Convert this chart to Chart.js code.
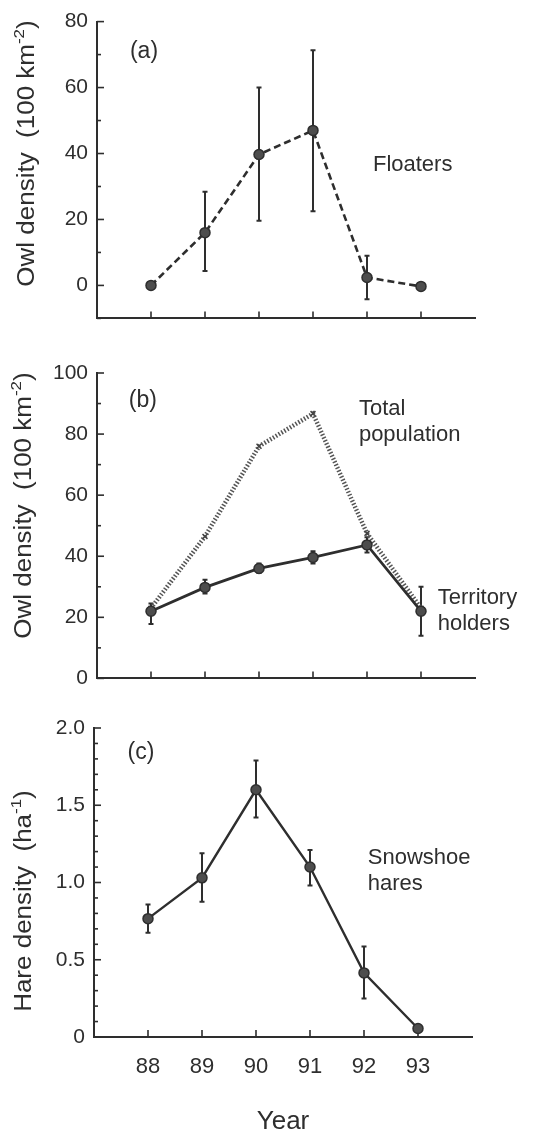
<!DOCTYPE html>
<html>
<head>
<meta charset="utf-8">
<script src="https://cdn.jsdelivr.net/npm/chart.js@4.4.1/dist/chart.umd.min.js"></script>
<style>
  html, body { margin: 0; padding: 0; background: #fff; }
  #wrap { position: relative; width: 559px; height: 1135px; }
  canvas { position: absolute; left: 0; }
</style>
</head>
<body>
<div id="wrap">
  <canvas id="panel-a" width="559" height="340" style="top:0px"></canvas>
  <canvas id="panel-b" width="559" height="360" style="top:340px"></canvas>
  <canvas id="panel-c" width="559" height="435" style="top:700px"></canvas>
</div>
<script>
// años (eje x)
const years = [88, 89, 90, 91, 92, 93];

// (a) floaters
const floaters     = [0, 16, 39.7, 47, 2.4, -0.3];
const floatersLow  = [null, 4.4, 19.6, 22.5, -4.2, null];
const floatersHigh = [null, 28.4, 60, 71.3, 9, null];

// (b) total population / territory holders
const totalPop      = [23, 46.5, 76, 86.7, 47.5, 23];
const territory     = [22, 29.8, 36, 39.6, 43.7, 22];
const territoryLow  = [17.8, 27.8, 34.5, 37.6, 41.2, 14];
const territoryHigh = [24.5, 32.3, 37.6, 41.6, 46.2, 30];

// (c) snowshoe hares
const hares     = [0.766, 1.03, 1.60, 1.10, 0.415, 0.055];
const haresLow  = [0.675, 0.876, 1.42, 0.98, 0.25, null];
const haresHigh = [0.857, 1.19, 1.79, 1.21, 0.585, null];

// etiquetas de ticks
const yLabelsA = [0, 20, 40, 60, 80];
const yLabelsB = [0, 20, 40, 60, 80, 100];
const yLabelsC = [0, 0.5, 1.0, 1.5, 2.0];

const INK = '#2e2e2e';
const FAMILY = '"Liberation Sans", Arial, Helvetica, sans-serif';
Chart.defaults.font.family = FAMILY;
Chart.defaults.color = INK;

function pts(ys) {
  return years.map((x, i) => ({ x: x, y: ys[i] }));
}

function hasValue(list, v) {
  return list.some(t => Math.abs(t - v) < 1e-6);
}

// plugin: ticks hacia adentro, barras de error y textos
function panelPlugin(cfg) {
  return {
    id: 'panel',
    beforeDatasetsDraw(chart) {
      const { ctx, chartArea, scales: { x, y } } = chart;
      ctx.save();
      ctx.strokeStyle = INK;
      ctx.lineWidth = 1.6;
      y.ticks.forEach(t => {
        const py = y.getPixelForValue(t.value);
        const len = hasValue(cfg.yLabels, t.value) ? 7 : 4;
        ctx.beginPath();
        ctx.moveTo(chartArea.left, py);
        ctx.lineTo(chartArea.left + len, py);
        ctx.stroke();
      });
      years.forEach(v => {
        const px = x.getPixelForValue(v);
        ctx.beginPath();
        ctx.moveTo(px, chartArea.bottom);
        ctx.lineTo(px, chartArea.bottom - 7);
        ctx.stroke();
      });
      // barras de error
      ctx.lineWidth = 2;
      chart.data.datasets.forEach(ds => {
        if (!ds.errLow) return;
        ds.data.forEach((p, i) => {
          const lo = ds.errLow[i], hi = ds.errHigh[i];
          if (lo == null || hi == null) return;
          const px = x.getPixelForValue(p.x);
          const y1 = y.getPixelForValue(lo);
          const y2 = y.getPixelForValue(hi);
          ctx.beginPath();
          ctx.moveTo(px, y1); ctx.lineTo(px, y2);
          ctx.moveTo(px - 2.5, y1); ctx.lineTo(px + 2.5, y1);
          ctx.moveTo(px - 2.5, y2); ctx.lineTo(px + 2.5, y2);
          ctx.stroke();
        });
      });
      ctx.restore();
    },
    afterDraw(chart) {
      const { ctx, scales: { x, y } } = chart;
      ctx.save();
      ctx.fillStyle = INK;
      ctx.font = '23px ' + FAMILY;
      ctx.textBaseline = 'middle';
      ctx.textAlign = 'center';
      ctx.fillText(cfg.tag.text, x.getPixelForValue(cfg.tag.x), y.getPixelForValue(cfg.tag.y));

      ctx.font = '22px ' + FAMILY;
      ctx.textAlign = 'left';
      cfg.notes.forEach(n => {
        const px = x.getPixelForValue(n.x);
        const py = y.getPixelForValue(n.y);
        n.lines.forEach((line, k) => ctx.fillText(line, px, py + k * 26));
      });

      // título del eje y, con superíndice (la fuente original es más ancha)
      const t = cfg.yTitle;
      ctx.translate(t.left, y.getPixelForValue(t.y));
      ctx.rotate(-Math.PI / 2);
      ctx.scale(1.13, 1);
      const big = '23px ' + FAMILY, small = '15px ' + FAMILY;
      ctx.font = big;
      const wMain = ctx.measureText(t.text).width;
      const wTail = ctx.measureText(')').width;
      ctx.font = small;
      const wSup = ctx.measureText(t.sup).width;
      let sx = -(wMain + wSup + wTail) / 2;
      ctx.font = big;
      ctx.fillText(t.text, sx, 0);
      sx += wMain;
      ctx.font = small;
      ctx.fillText(t.sup, sx, -8);
      sx += wSup;
      ctx.font = big;
      ctx.fillText(')', sx, 0);
      ctx.restore();
    }
  };
}

function makeChart(id, cfg) {
  return new Chart(document.getElementById(id), {
    type: 'line',
    data: { datasets: cfg.datasets },
    options: {
      responsive: false,
      animation: false,
      events: [],
      layout: { padding: { top: cfg.padTop, right: cfg.padRight, left: 0, bottom: 0 } },
      plugins: { legend: { display: false }, tooltip: { enabled: false } },
      scales: {
        x: {
          type: 'linear',
          min: 87,
          max: 94,
          grid: { display: false, drawTicks: false },
          border: { color: INK, width: 2 },
          ticks: {
            display: cfg.xLabels,
            stepSize: 1,
            autoSkip: false,
            maxRotation: 0,
            padding: 17,
            color: INK,
            font: { size: 22 },
            callback: v => years.includes(v) ? String(v) : ''
          },
          title: {
            display: cfg.xLabels,
            text: 'Year',
            color: INK,
            font: { size: 26, lineHeight: 1 },
            padding: 0
          },
          afterFit: s => { s.height = cfg.xHeight; }
        },
        y: {
          min: cfg.yMin,
          max: cfg.yMax,
          grid: { display: false, drawTicks: false },
          border: { color: INK, width: 2 },
          ticks: {
            stepSize: cfg.yStep,
            autoSkip: false,
            padding: 9,
            color: INK,
            font: { size: 21 },
            callback: cfg.yFormat
          },
          afterFit: s => { s.width = cfg.yWidth; }
        }
      }
    },
    plugins: [panelPlugin(cfg)]
  });
}

const markerStyle = {
  borderColor: INK,
  pointRadius: 5,
  pointBackgroundColor: '#4d4d4d',
  pointBorderColor: INK,
  pointBorderWidth: 1.5,
  tension: 0
};

// (a)
makeChart('panel-a', {
  padTop: 16, padRight: 84, xHeight: 17, yWidth: 97,
  yMin: -10, yMax: 80, yStep: 10, yLabels: yLabelsA,
  yFormat: v => hasValue(yLabelsA, v) ? String(v) : '',
  xLabels: false,
  tag: { text: '(a)', x: 87.87, y: 71 },
  notes: [{ x: 92.11, y: 36.5, lines: ['Floaters'] }],
  yTitle: { left: 28, y: 40, text: 'Owl density  (100 km', sup: '-2' },
  datasets: [Object.assign({
    data: pts(floaters),
    errLow: floatersLow,
    errHigh: floatersHigh,
    borderWidth: 2.6,
    borderDash: [7, 4]
  }, markerStyle)]
});

// (b)
makeChart('panel-b', {
  padTop: 33, padRight: 84, xHeight: 19, yWidth: 97,
  yMin: 0, yMax: 100, yStep: 10, yLabels: yLabelsB,
  yFormat: v => hasValue(yLabelsB, v) ? String(v) : '',
  xLabels: false,
  tag: { text: '(b)', x: 87.85, y: 91 },
  notes: [
    { x: 91.85, y: 88.3, lines: ['Total', 'population'] },
    { x: 93.31, y: 26.2, lines: ['Territory', 'holders'] }
  ],
  yTitle: { left: 25, y: 56.6, text: 'Owl density  (100 km', sup: '-2' },
  datasets: [
    Object.assign({
      data: pts(territory),
      errLow: territoryLow,
      errHigh: territoryHigh,
      borderWidth: 2.8
    }, markerStyle),
    {
      data: pts(totalPop),
      borderColor: '#555',
      borderWidth: 4.5,
      borderDash: [1.5, 1.8],
      pointStyle: 'crossRot',
      pointRadius: 3.5,
      pointBorderColor: '#444',
      pointBorderWidth: 1.5,
      tension: 0
    }
  ]
});

// (c)
makeChart('panel-c', {
  padTop: 28, padRight: 87, xHeight: 98, yWidth: 94,
  yMin: 0, yMax: 2, yStep: 0.1, yLabels: yLabelsC,
  yFormat: v => {
    if (!hasValue(yLabelsC, v)) return '';
    return Math.abs(v) < 1e-6 ? '0' : v.toFixed(1);
  },
  xLabels: true,
  tag: { text: '(c)', x: 87.87, y: 1.84 },
  notes: [{ x: 92.07, y: 1.16, lines: ['Snowshoe', 'hares'] }],
  yTitle: { left: 25, y: 0.88, text: 'Hare density  (ha', sup: '-1' },
  datasets: [Object.assign({
    data: pts(hares),
    errLow: haresLow,
    errHigh: haresHigh,
    borderWidth: 2.4
  }, markerStyle)]
});
</script>
</body>
</html>
